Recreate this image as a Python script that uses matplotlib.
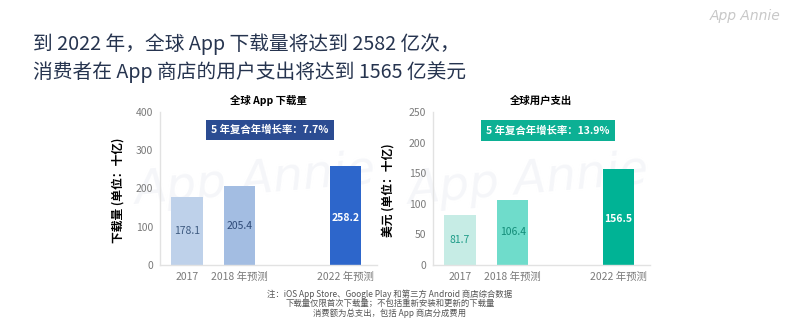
import matplotlib
matplotlib.use("Agg")
import matplotlib.pyplot as plt

plt.rcParams['font.family'] = ['Noto Sans CJK SC', 'DejaVu Sans']

categories = ["2017", "2018 年预测", "2022 年预测"]
x_pos = [0, 1, 3]
downloads = [178.1, 205.4, 258.2]
spending = [81.7, 106.4, 156.5]
dl_colors = ["#BED1EA", "#A3BDE2", "#2D66CB"]
sp_colors = ["#C6ECE5", "#6FDCCB", "#00B395"]
dl_label_colors = ["#3E5A80", "#2E4A78", "#FFFFFF"]
sp_label_colors = ["#1E9C88", "#128C78", "#FFFFFF"]

fig = plt.figure(figsize=(7.87, 3.19), dpi=100)
fig.patch.set_facecolor("white")

title_color = "#26344F"
fig.text(33/787, 1-44/319, "到 2022 年，全球 App 下载量将达到 2582 亿次，", fontsize=14.2,
         color=title_color, va="center", ha="left", fontweight="medium")
fig.text(33/787, 1-72/319, "消费者在 App 商店的用户支出将达到 1565 亿美元", fontsize=14.2,
         color=title_color, va="center", ha="left", fontweight="medium")
fig.text(745/787, 1-16/319, "App Annie", fontsize=10, color="#C8C8C8", style="italic",
         ha="center", va="center", family=["DejaVu Sans"])

def make_panel(left_px, values, colors, lcolors, ymax, yticks, title, ylabel, box_text,
               box_color, box_xy, ylabel_x):
    ax = fig.add_axes([left_px/787, 54/319, 217/787, 153/319])
    ax.bar(x_pos, values, width=0.59, color=colors)
    for xp, v, lc in zip(x_pos, values, lcolors):
        bold = lc == "#FFFFFF"
        ax.text(xp, v*0.5 if xp < 3 else v*0.48, f"{v}", ha="center", va="center",
                fontsize=7.5, color=lc, fontweight="bold" if bold else "normal")
    ax.set_xlim(-0.51, 3.6)
    ax.set_ylim(0, ymax)
    ax.set_yticks(yticks)
    ax.set_xticks(x_pos)
    ax.set_xticklabels(categories)
    ax.tick_params(axis="both", length=0, labelsize=7.5, labelcolor="#7A7A7A")
    ax.tick_params(axis="x", pad=5)
    ax.tick_params(axis="y", pad=5)
    for s in ["top", "right"]:
        ax.spines[s].set_visible(False)
    for s in ["left", "bottom"]:
        ax.spines[s].set_color("#E2E2E2")
        ax.spines[s].set_linewidth(1)
    ax.text(1.3, ymax*0.55, "App Annie", fontsize=34, color="#F5F6F9", style="italic",
            ha="center", va="center", zorder=0, family=["DejaVu Sans"], rotation=5)
    ax.set_title(title, fontsize=7.5, fontweight="bold", pad=6, color="black")
    ax.text(box_xy[0], box_xy[1], box_text, ha="center", va="center", fontsize=7.5,
            color="white", fontweight="bold",
            bbox=dict(boxstyle="square,pad=0.5", facecolor=box_color, edgecolor="none"))
    fig.text(ylabel_x/787, 1-190/319, ylabel, rotation=90, ha="center", va="center",
             fontsize=8.5, fontweight="bold", color="black")
    return ax

make_panel(160, downloads, dl_colors, dl_label_colors, 400, [0, 100, 200, 300, 400],
           "全球 App 下载量", "下载量 (单位：十亿)", "5 年复合年增长率：7.7%", "#2B4C92",
           (1.57, 353), 118)
make_panel(433, spending, sp_colors, sp_label_colors, 250, [0, 50, 100, 150, 200, 250],
           "全球用户支出", "美元 (单位：十亿)", "5 年复合年增长率：13.9%", "#0CB094",
           (1.67, 220), 388)

notes = ["注：iOS App Store、Google Play 和第三方 Android 商店综合数据",
         "下载量仅限首次下载量；不包括重新安装和更新的下载量",
         "消费额为总支出，包括 App 商店分成费用"]
for i, n in enumerate(notes):
    fig.text(390/787, 1-(294 + i*9.5)/319, n, ha="center", va="center", fontsize=6,
             color="#555555")

fig.savefig("out.png", dpi=100)
